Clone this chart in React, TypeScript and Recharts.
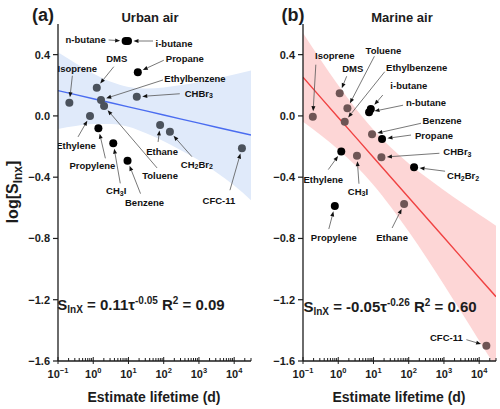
import React from "react";
import { Area, ComposedChart, Line, Scatter, XAxis, YAxis } from "recharts";

const FONT = '"Liberation Sans", Arial, Helvetica, sans-serif';
const INK = "#1c1c1c";

// regression fit + confidence band, sampled on half-decades
const fitLifetimes = [0.1, 0.316, 1, 3.16, 10, 31.6, 100, 316, 1000, 3162, 10000, 30000];
const urbanFit = [0.165, 0.139, 0.112, 0.086, 0.059, 0.033, 0.006, -0.021, -0.047, -0.074, -0.1, -0.125];
const urbanLower = [-0.085, -0.066, -0.053, -0.052, -0.071, -0.114, -0.165, -0.225, -0.29, -0.37, -0.455, -0.55];
const urbanUpper = [0.415, 0.343, 0.277, 0.223, 0.189, 0.179, 0.185, 0.201, 0.222, 0.246, 0.271, 0.296];
const marineFit = [0.252, 0.121, -0.01, -0.14, -0.271, -0.402, -0.533, -0.663, -0.794, -0.925, -1.056, -1.18];
const marineLower = [-0.038, -0.125, -0.219, -0.326, -0.451, -0.596, -0.755, -0.925, -1.102, -1.284, -1.467, -1.643];
const marineUpper = [0.542, 0.367, 0.2, 0.046, -0.091, -0.208, -0.31, -0.401, -0.486, -0.566, -0.644, -0.717];

// species: lifetime (days) and log[S]
const urbanSpecies = ["Isoprene", "Ethylene", "DMS", "Ethylbenzene", "Toluene", "Propylene", "CH3I", "Benzene", "n-butane", "i-butane", "Propane", "CHBr3", "Ethane", "CH2Br2", "CFC-11"];
const urbanLifetime = [0.21, 0.81, 1.26, 1.66, 2.03, 1.4, 3.7, 9.4, 8.3, 9.7, 18.4, 17.2, 79, 150, 16600];
const urbanLogS = [0.086, 0.0, 0.184, 0.104, 0.065, -0.081, -0.179, -0.292, 0.489, 0.489, 0.285, 0.125, -0.059, -0.103, -0.211];
const urbanBlack = ["n-butane", "i-butane", "Propane", "Propylene", "CH3I", "Benzene"];

const marineSpecies = ["Isoprene", "DMS", "Toluene", "Ethylbenzene", "i-butane", "n-butane", "Benzene", "Propane", "CHBr3", "CH2Br2", "Ethylene", "CH3I", "Propylene", "Ethane", "CFC-11"];
const marineLifetime = [0.19, 1.1, 1.82, 1.53, 8.4, 7.5, 9.1, 17.5, 16.8, 142, 1.22, 3.4, 0.8, 74, 16000];
const marineLogS = [-0.005, 0.148, 0.05, -0.038, 0.045, 0.024, -0.12, -0.151, -0.27, -0.335, -0.233, -0.26, -0.588, -0.575, -1.5];
const marineBlack = ["i-butane", "n-butane", "Propane", "CH2Br2", "Ethylene", "Propylene"];

const xTicks = [0.1, 1, 10, 100, 1000, 10000];
const yTicks = [-1.6, -1.2, -0.8, -0.4, 0, 0.4];

// label placement, px relative to the dot: [label dx, label dy, arrow tail dx, arrow tail dy]
const urbanNotes: Record<string, number[]> = {
  "n-butane": [-40, -2, -17, -1],
  "i-butane": [46, 2, 25, 0],
  Propane: [47, -14, 26, -12],
  DMS: [20, -29, 17, -21],
  Isoprene: [8, -34, 3, -27],
  Ethylbenzene: [94, -21, 62, -20],
  CHBr3: [62, -4, 43, -3],
  Ethylene: [-14, 30, -12, 21],
  Propylene: [-6, 37, 7, 30],
  CH3I: [3, 47, 7, 40],
  Benzene: [17, 42, 13, 33],
  Toluene: [56, 70, 53, 62],
  Ethane: [2, 27, -2, 17],
  CH2Br2: [27, 32, 22, 25],
  "CFC-11": [-23, 52, -12, 42],
};
const marineNotes: Record<string, number[]> = {
  Isoprene: [22, -61, 3, -52],
  DMS: [13, -25, 7, -17],
  Toluene: [36, -58, 27, -52],
  Ethylbenzene: [72, -54, 40, -50],
  "i-butane": [38, -24, 12, -14],
  "n-butane": [57, -10, 34, -7],
  Benzene: [70, -14, 49, -11],
  Propane: [52, -4, 29, -4],
  CHBr3: [76, -6, 58, -4],
  CH2Br2: [49, 8, 31, 4],
  Ethylene: [-18, 28, -13, 18],
  CH3I: [1, 35, 2, 28],
  Propylene: [-1, 32, -6, 23],
  Ethane: [-12, 34, -12, 24],
  "CFC-11": [-40, -8, -20, -6],
};

const R = 4;

function minorTicks() {
  const out: number[] = [];
  for (let e = -1; e <= 4; e++) {
    for (let m = 1; m <= 9; m++) {
      const v = m * Math.pow(10, e);
      if (v <= 30000) out.push(v);
    }
  }
  return out;
}
const allXTicks = minorTicks();

function LogTick(props: any) {
  const { x, y, payload } = props;
  const v = payload.value as number;
  const exp = Math.round(Math.log10(v));
  const major = xTicks.some((t) => Math.abs(t - v) < 1e-9);
  if (!major) {
    return <line x1={x} x2={x} y1={y} y2={y - 3} stroke={INK} strokeWidth={1} />;
  }
  return (
    <g>
      <line x1={x} x2={x} y1={y - 4} y2={y + 3} stroke={INK} strokeWidth={1} />
      <text x={x} y={y + 17} textAnchor="middle" fontFamily={FONT} fontWeight="bold" fontSize={11} fill={INK}>
        10
        <tspan dy={-5} fontSize={7.5}>
          {exp < 0 ? "\u2212" + Math.abs(exp) : exp}
        </tspan>
      </text>
    </g>
  );
}

function yLabel(v: number) {
  if (v === 0) return "0.0";
  return (v < 0 ? "\u2212" : "") + Math.abs(v).toFixed(1);
}

function chemParts(name: string) {
  if (!name.startsWith("CH")) return [name];
  const parts = name.split(/(\d)/).filter((p) => p !== "");
  let lowered = false;
  return parts.map((p, i) => {
    if (/\d/.test(p)) {
      const dy = lowered ? 0 : 2.5;
      lowered = true;
      return (
        <tspan key={i} dy={dy} fontSize={7}>
          {p}
        </tspan>
      );
    }
    const dy = lowered ? -2.5 : 0;
    lowered = false;
    return (
      <tspan key={i} dy={dy}>
        {p}
      </tspan>
    );
  });
}

function speciesShape(notes: Record<string, number[]>, dark: string[], colour: string) {
  return (props: any) => {
    const { cx, cy, payload } = props;
    const name = payload.name as string;
    const [lx, ly, tx, ty] = notes[name];
    const ax = cx + tx;
    const ay = cy + ty;
    const len = Math.hypot(cx - ax, cy - ay);
    const ux = (cx - ax) / len;
    const uy = (cy - ay) / len;
    const hx = cx - ux * (R + 1.5);
    const hy = cy - uy * (R + 1.5);
    const bx = hx - ux * 5;
    const by = hy - uy * 5;
    return (
      <g>
        <line x1={ax} y1={ay} x2={bx} y2={by} stroke="#555" strokeWidth={0.8} />
        <polygon
          points={`${hx},${hy} ${bx - uy * 2},${by + ux * 2} ${bx + uy * 2},${by - ux * 2}`}
          fill="#111"
        />
        <circle cx={cx} cy={cy} r={R} fill={dark.includes(name) ? "#000" : colour} />
        <text
          x={cx + lx}
          y={cy + ly}
          textAnchor="middle"
          dominantBaseline="central"
          fontFamily={FONT}
          fontWeight="bold"
          fontSize={9.5}
          fill="#111"
        >
          {chemParts(name)}
        </text>
      </g>
    );
  };
}

interface PanelProps {
  left: number;
  width: number;
  axisWidth: number;
  right: number;
  fit: number[];
  lower: number[];
  upper: number[];
  species: string[];
  lifetime: number[];
  logS: number[];
  dark: string[];
  notes: Record<string, number[]>;
  dotColour: string;
  bandColour: string;
  lineColour: string;
}

function Panel(p: PanelProps) {
  const band = fitLifetimes.map((t, i) => ({ t, fit: p.fit[i], band: [p.lower[i], p.upper[i]] }));
  const points = p.species.map((name, i) => ({ name, t: p.lifetime[i], v: p.logS[i] }));
  const axisLine = { stroke: INK, strokeWidth: 1.3 };
  return (
    <div style={{ position: "absolute", left: p.left, top: 0 }}>
      <ComposedChart width={p.width} height={409} margin={{ top: 24, right: p.right, left: 0, bottom: 0 }}>
        <XAxis
          dataKey="t"
          type="number"
          scale="log"
          domain={[0.1, 30000]}
          allowDataOverflow
          ticks={allXTicks}
          interval={0}
          tick={<LogTick />}
          tickLine={false}
          tickSize={0}
          tickMargin={0}
          height={48}
          axisLine={axisLine}
        />
        <XAxis xAxisId="top" orientation="top" type="number" domain={[0, 1]} ticks={[]} tick={false} tickLine={false} height={0} axisLine={axisLine} />
        <YAxis
          dataKey="v"
          type="number"
          domain={[-1.6, 0.6]}
          allowDataOverflow
          ticks={yTicks}
          interval={0}
          width={p.axisWidth}
          tickFormatter={yLabel}
          tickSize={5}
          tickMargin={3}
          tickLine={{ stroke: INK, strokeWidth: 1.2 }}
          axisLine={axisLine}
          tick={{ fontFamily: FONT, fontWeight: "bold", fontSize: 11, fill: INK }}
        />
        <YAxis yAxisId="right" orientation="right" type="number" domain={[0, 1]} ticks={[]} tick={false} tickLine={false} width={0} axisLine={axisLine} />
        <Area
          data={band}
          dataKey="band"
          type="monotone"
          stroke="none"
          fill={p.bandColour}
          fillOpacity={1}
          isAnimationActive={false}
        />
        <Line
          data={band}
          dataKey="fit"
          type="linear"
          stroke={p.lineColour}
          strokeWidth={1.4}
          dot={false}
          isAnimationActive={false}
        />
        <Scatter
          data={points}
          dataKey="v"
          shape={speciesShape(p.notes, p.dark, p.dotColour)}
          isAnimationActive={false}
        />
      </ComposedChart>
    </div>
  );
}

const abs = (left: number, top: number, extra: React.CSSProperties = {}): React.CSSProperties => ({
  position: "absolute",
  left,
  top,
  transform: "translate(-50%, -50%)",
  fontFamily: FONT,
  fontWeight: "bold",
  color: INK,
  whiteSpace: "nowrap",
  lineHeight: 1,
  ...extra,
});

const supStyle: React.CSSProperties = { fontSize: 10, verticalAlign: "0.55em", lineHeight: 0 };
const subStyle: React.CSSProperties = { fontSize: 10, verticalAlign: "-0.35em", lineHeight: 0 };

export default function App() {
  return (
    <div style={{ position: "absolute", left: 0, top: 0, width: 500, height: 409, background: "#fff", overflow: "hidden" }}>
      <Panel
        left={0}
        width={254}
        axisWidth={58}
        right={3}
        fit={urbanFit}
        lower={urbanLower}
        upper={urbanUpper}
        species={urbanSpecies}
        lifetime={urbanLifetime}
        logS={urbanLogS}
        dark={urbanBlack}
        notes={urbanNotes}
        dotColour="#4b525c"
        bandColour="#e0eafa"
        lineColour="#4a6cf0"
      />
      <Panel
        left={250}
        width={250}
        axisWidth={53}
        right={4}
        fit={marineFit}
        lower={marineLower}
        upper={marineUpper}
        species={marineSpecies}
        lifetime={marineLifetime}
        logS={marineLogS}
        dark={marineBlack}
        notes={marineNotes}
        dotColour="#6e5555"
        bandColour="#fdd6d6"
        lineColour="#f04242"
      />

      <div style={abs(43, 15, { fontSize: 18 })}>(a)</div>
      <div style={abs(293, 15, { fontSize: 18 })}>(b)</div>
      <div style={abs(150, 17, { fontSize: 13 })}>Urban air</div>
      <div style={abs(402, 17, { fontSize: 13 })}>Marine air</div>

      <div style={abs(13, 192, { fontSize: 16, transform: "translate(-50%, -50%) rotate(-90deg)" })}>
        log[S<span style={{ fontSize: 12, verticalAlign: "-0.3em", lineHeight: 0 }}>lnx</span>]
      </div>

      <div style={abs(154, 397, { fontSize: 14 })}>Estimate lifetime (d)</div>
      <div style={abs(399, 397, { fontSize: 14 })}>Estimate lifetime (d)</div>

      <div style={abs(141, 304, { fontSize: 15 })}>
        S<span style={subStyle}>lnX</span> = 0.11τ<span style={supStyle}>-0.05</span> R<span style={supStyle}>2</span> = 0.09
      </div>
      <div style={abs(390, 306, { fontSize: 15 })}>
        S<span style={subStyle}>lnX</span> = -0.05τ<span style={supStyle}>-0.26</span> R<span style={supStyle}>2</span> = 0.60
      </div>
    </div>
  );
}
